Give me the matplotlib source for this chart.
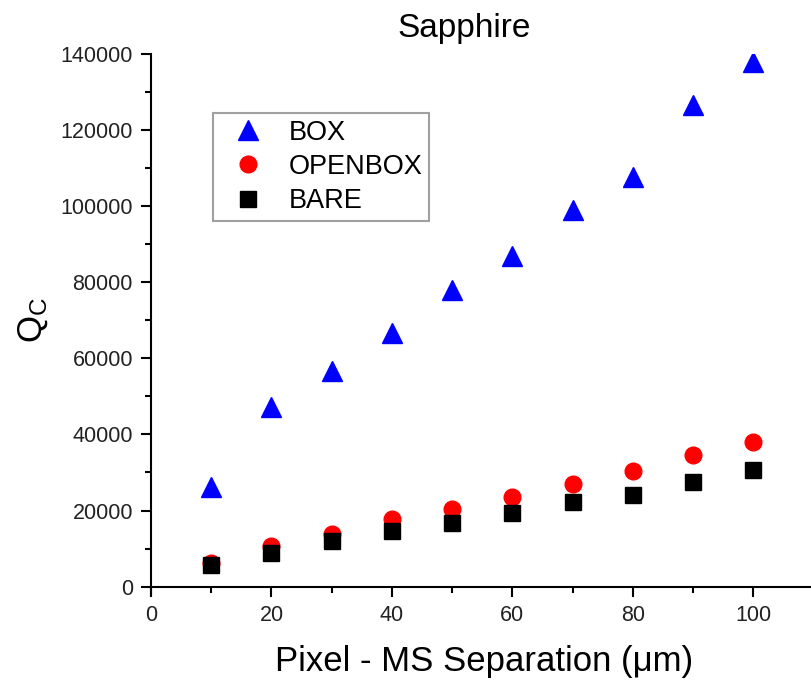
import matplotlib
matplotlib.use('Agg')
import matplotlib.pyplot as plt
from matplotlib.ticker import MultipleLocator

plt.rcParams['font.family'] = ['Liberation Sans', 'DejaVu Sans']

# Pixel - MS separation (um)
separation = [10, 20, 30, 40, 50, 60, 70, 80, 90, 100]
box = [26200, 47200, 56600, 66700, 78000, 86900, 99100, 107700, 126600, 137800]
openbox = [6100, 10800, 13800, 17700, 20300, 23500, 27100, 30500, 34600, 37900]
bare = [5600, 8800, 11900, 14500, 16600, 19300, 22300, 24200, 27500, 30600]

fig = plt.figure(figsize=(8.11, 6.81), dpi=100)
ax = fig.add_axes([0.1862, 0.1263, 0.8138, 0.7944])

ax.plot(separation, box, linestyle='none', marker='^', markersize=14, color='#0000ff', label='BOX')
ax.plot(separation, openbox, linestyle='none', marker='o', markersize=12, color='#ff0000', label='OPENBOX')
ax.plot(separation, bare, linestyle='none', marker='s', markersize=11, color='black', label='BARE')

ax.set_xlim(0, 109.6)
ax.set_ylim(-2200, 140000)
ax.spines['top'].set_visible(False)
ax.spines['right'].set_visible(False)
ax.spines['bottom'].set_position(('data', 0))
for side in ['left', 'bottom']:
    ax.spines[side].set_linewidth(1.5)

ax.xaxis.set_major_locator(MultipleLocator(20))
ax.xaxis.set_minor_locator(MultipleLocator(10))
ax.yaxis.set_major_locator(MultipleLocator(20000))
ax.yaxis.set_minor_locator(MultipleLocator(10000))
ax.tick_params(which='major', length=7, width=1.5, labelsize=15.5, labelcolor='#222222', pad=6)
ax.tick_params(which='minor', length=4, width=1.5)

ax.set_xlabel('Pixel - MS Separation (\u03bcm)', fontsize=25)
ax.xaxis.set_label_coords(0.505, -0.092)
ax.set_ylabel('$\\mathregular{Q_C}$', fontsize=25)
ax.yaxis.set_label_coords(-0.153, 0.508)

fig.text(464 / 811, 1 - 29 / 681, 'Sapphire', fontsize=24, ha='center', va='center')

leg = ax.legend(loc='upper left', bbox_to_anchor=(213 / 811, 1 - 113 / 681),
                bbox_transform=fig.transFigure, fontsize=19.5, frameon=True,
                fancybox=False, borderpad=0.25, labelspacing=0.3,
                handlelength=2.1, handletextpad=0.45, borderaxespad=0)
leg.get_frame().set_edgecolor('#888888')
leg.get_frame().set_linewidth(1.5)

fig.savefig('out.png', dpi=100)
